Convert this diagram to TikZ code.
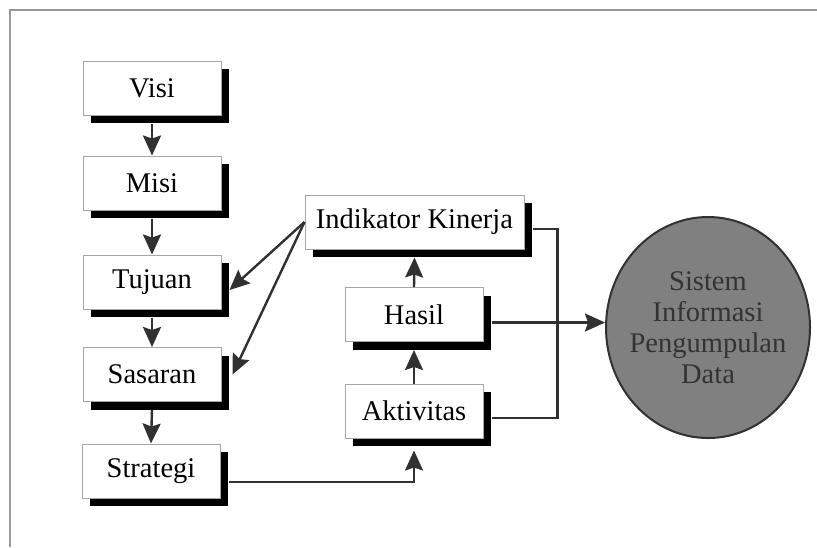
\documentclass[tikz,border=0pt]{standalone}
\usepackage{fontspec}
\setmainfont{Liberation Serif}
\usetikzlibrary{arrows.meta,calc,shadows,shapes.geometric}
\definecolor{LineClr}{rgb}{0.2,0.19,0.19}
\definecolor{FrameClr}{rgb}{0.6,0.6,0.6}
\definecolor{BoxClr}{rgb}{0.65,0.65,0.65}
\definecolor{BallClr}{rgb}{0.5,0.5,0.5}
\definecolor{TextClr}{rgb}{0.2,0.2,0.2}

\begin{document}
\begin{tikzpicture}[x=.5pt,y=-.5pt,
  box/.style={draw=BoxClr,line width=.5pt,fill=white,minimum width=69pt,minimum height=27pt,inner sep=0pt,
    font=\fontsize{14.25}{16}\selectfont,
    drop shadow={shadow xshift=4pt,shadow yshift=-4pt,fill=black,opacity=1}},
  widebox/.style={box,minimum width=109.5pt},
  link/.style={draw=LineClr,line width=1.2pt,-{Stealth[length=10pt,width=9pt,inset=1.5pt]}},
  wire/.style={draw=LineClr,line width=1.2pt}]
\useasboundingbox (0,0) rectangle (817,547);
\draw[FrameClr,line width=.75pt] (10,547) -- (10,10) -- (817,10);

\node[box] (visi) at (152,88) {Visi};
\node[box] (misi) at (152,183) {Misi};
\node[box] (tujuan) at (152,282) {Tujuan};
\node[box] (sasaran) at (152,374.5) {Sasaran};
\node[box] (strategi) at (151,471) {Strategi};
\node[widebox] (indikator) at (414.5,222) {Indikator Kinerja};
\node[box] (hasil) at (414,314.5) {Hasil};
\node[box] (aktivitas) at (414,411) {Aktivitas};
\node[ellipse,draw=LineClr,line width=1pt,fill=BallClr,minimum width=102pt,minimum height=110.5pt,
  inner xsep=-3.5pt,inner ysep=0pt,align=center,text=TextClr,font=\fontsize{14.25}{15.5}\selectfont] (sistem) at (708,327.5)
  {Sistem\\Informasi\\Pengumpulan\\Data};

\draw[link] ($(visi.south)+(0,8)$) -- (misi.north);
\draw[link] ($(misi.south)+(0,8)$) -- (tujuan.north);
\draw[link] ($(tujuan.south)+(0,8)$) -- (sasaran.north);
\draw[link] ($(sasaran.south)+(0,8)$) -- (strategi.north);

\draw[link] (indikator.west) -- ($(tujuan.east)+(8,8)$);
\draw[link] (indikator.west) -- ($(sasaran.east)+(11,0)$);

\draw[link] ($(strategi.east)+(8,11)$) -| ($(aktivitas.south)+(0,12)$);
\draw[link] (aktivitas.north) -- ($(hasil.south)+(0,8)$);
\draw[link] (hasil.north) -- ($(indikator.south)+(0,8)$);

\coordinate (hasilout) at ($(hasil.east)+(8,8)$);
\draw[link] (hasilout) -- (hasilout -| sistem.west);
\draw[wire] ($(indikator.east)+(8,7)$) -- ++(25,0) |- ($(aktivitas.east)+(8,7)$);
\end{tikzpicture}
\end{document}
